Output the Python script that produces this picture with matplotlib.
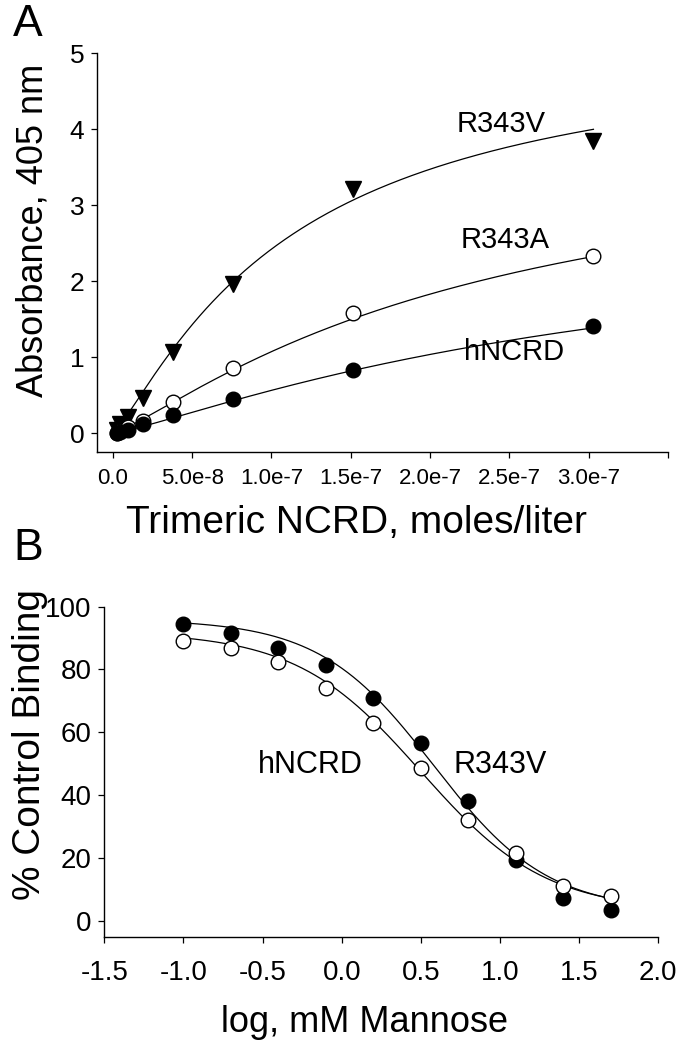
import numpy as np
import matplotlib
matplotlib.use("Agg")
from matplotlib import pyplot as plt

plt.rcParams['font.family'] = ['Liberation Sans', 'DejaVu Sans']

# panel A: binding vs concentration
conc = [2.4e-9, 4.7e-9, 9.5e-9, 1.89e-8, 3.79e-8, 7.57e-8, 1.515e-7, 3.03e-7]
abs_r343v = [0.04, 0.12, 0.22, 0.46, 1.07, 1.97, 3.22, 3.84]
abs_r343a = [0.01, 0.03, 0.08, 0.17, 0.41, 0.86, 1.59, 2.33]
abs_hncrd = [0.00, 0.02, 0.05, 0.13, 0.24, 0.45, 0.83, 1.41]
# fitted curve parameters (max, half point, slope)
fit_r343v = [5.22, 1.126e-7, 1.2]
fit_r343a = [4.0, 2.30e-7, 1.2]
fit_hncrd = [2.9, 3.25e-7, 1.2]
xticks_a = [0, 5e-8, 1e-7, 1.5e-7, 2e-7, 2.5e-7, 3e-7, 3.5e-7]
xlabels_a = ['0.0', '5.0e-8', '1.0e-7', '1.5e-7', '2.0e-7', '2.5e-7', '3.0e-7', '']

# panel B: inhibition by mannose
log_mannose = [-1.0, -0.7, -0.4, -0.1, 0.2, 0.5, 0.8, 1.1, 1.4, 1.7]
pct_filled = [94.5, 91.5, 87.0, 81.5, 71.0, 56.7, 38.2, 19.3, 7.1, 3.4]
pct_open = [89.1, 87.0, 82.5, 74.0, 63.1, 48.5, 32.1, 21.4, 11.0, 7.9]
# logistic fits (top, bottom, log IC50, hill)
fit_filled = [96, 3, 0.58, 1.2]
fit_open = [92, 3, 0.50, 1.1]


def hill(x, p):
    x = np.asarray(x)
    return p[0] * (x / p[1]) ** p[2] / (1 + (x / p[1]) ** p[2])


def logistic(x, p):
    return p[1] + (p[0] - p[1]) / (1 + 10 ** ((x - p[2]) * p[3]))


fig = plt.figure(figsize=(6.87, 10.5), dpi=100)
axA = fig.add_axes([97 / 687, 1 - 451.7 / 1050, 571 / 687, 398.4 / 1050])
axB = fig.add_axes([104.3 / 687, 1 - 937.3 / 1050, 554 / 687, 330.6 / 1050])

xs = np.linspace(0, conc[-1], 300)
for vals, fit, mk, fc in [(abs_r343v, fit_r343v, 'v', 'black'),
                          (abs_r343a, fit_r343a, 'o', 'white'),
                          (abs_hncrd, fit_hncrd, 'o', 'black')]:
    axA.plot(xs, hill(xs, fit), color='black', lw=0.9, zorder=2)
    axA.plot(conc, vals, mk, ms=11 if mk == 'v' else 10.5, mfc=fc,
             mec='black', mew=1.0, ls='none', zorder=3)

axA.text(2.45e-7, 4.07, 'R343V', fontsize=21, ha='center', va='center')
axA.text(2.47e-7, 2.55, 'R343A', fontsize=21, ha='center', va='center')
axA.text(2.53e-7, 1.07, 'hNCRD', fontsize=21, ha='center', va='center')

axA.set_xlim(-1e-8, 3.5e-7)
axA.set_ylim(-0.24, 5)
axA.set_xticks(xticks_a)
axA.set_xticklabels(xlabels_a)
axA.set_yticks([0, 1, 2, 3, 4, 5])
axA.tick_params(axis='x', labelsize=16, pad=8)
axA.tick_params(axis='y', labelsize=19, pad=5)
axA.set_ylabel('Absorbance, 405 nm', fontsize=26)
axA.yaxis.set_label_coords(-0.082, 0.555)
axA.set_xlabel('Trimeric NCRD, moles/liter', fontsize=28)
axA.xaxis.set_label_coords(0.455, -0.134)

xb = np.linspace(log_mannose[0], log_mannose[-1], 300)
axB.plot(xb, logistic(xb, fit_filled), color='black', lw=0.9, zorder=2)
axB.plot(xb, logistic(xb, fit_open), color='black', lw=0.9, zorder=2)
axB.plot(log_mannose, pct_filled, 'o', ms=10.5, mfc='black', mec='black', mew=1.0, zorder=3)
axB.plot(log_mannose, pct_open, 'o', ms=10.5, mfc='white', mec='black', mew=1.0, zorder=3)
axB.text(-0.2, 49.6, 'hNCRD', fontsize=22, ha='center', va='center')
axB.text(1.0, 49.6, 'R343V', fontsize=22, ha='center', va='center')

axB.set_xlim(-1.5, 2.0)
axB.set_ylim(-5.3, 100)
axB.set_xticks([-1.5, -1.0, -0.5, 0.0, 0.5, 1.0, 1.5, 2.0])
axB.set_xticklabels(['-1.5', '-1.0', '-0.5', '0.0', '0.5', '1.0', '1.5', '2.0'])
axB.set_yticks([0, 20, 40, 60, 80, 100])
axB.tick_params(axis='x', labelsize=20, pad=12)
axB.tick_params(axis='y', labelsize=20, pad=5)
axB.set_ylabel('% Control Binding', fontsize=28)
axB.yaxis.set_label_coords(-0.102, 0.582)
axB.set_xlabel('log, mM Mannose', fontsize=26)
axB.xaxis.set_label_coords(0.47, -0.205)

for ax in [axA, axB]:
    ax.spines['top'].set_visible(False)
    ax.spines['right'].set_visible(False)
    ax.spines['left'].set_linewidth(1.0)
    ax.spines['bottom'].set_linewidth(1.0)
    ax.tick_params(direction='out', length=4, width=0.9)

fig.text(28 / 687, 1 - 25 / 1050, 'A', fontsize=32, ha='center', va='center')
fig.text(28 / 687, 1 - 548 / 1050, 'B', fontsize=32, ha='center', va='center')

fig.savefig('out.png', dpi=100)
